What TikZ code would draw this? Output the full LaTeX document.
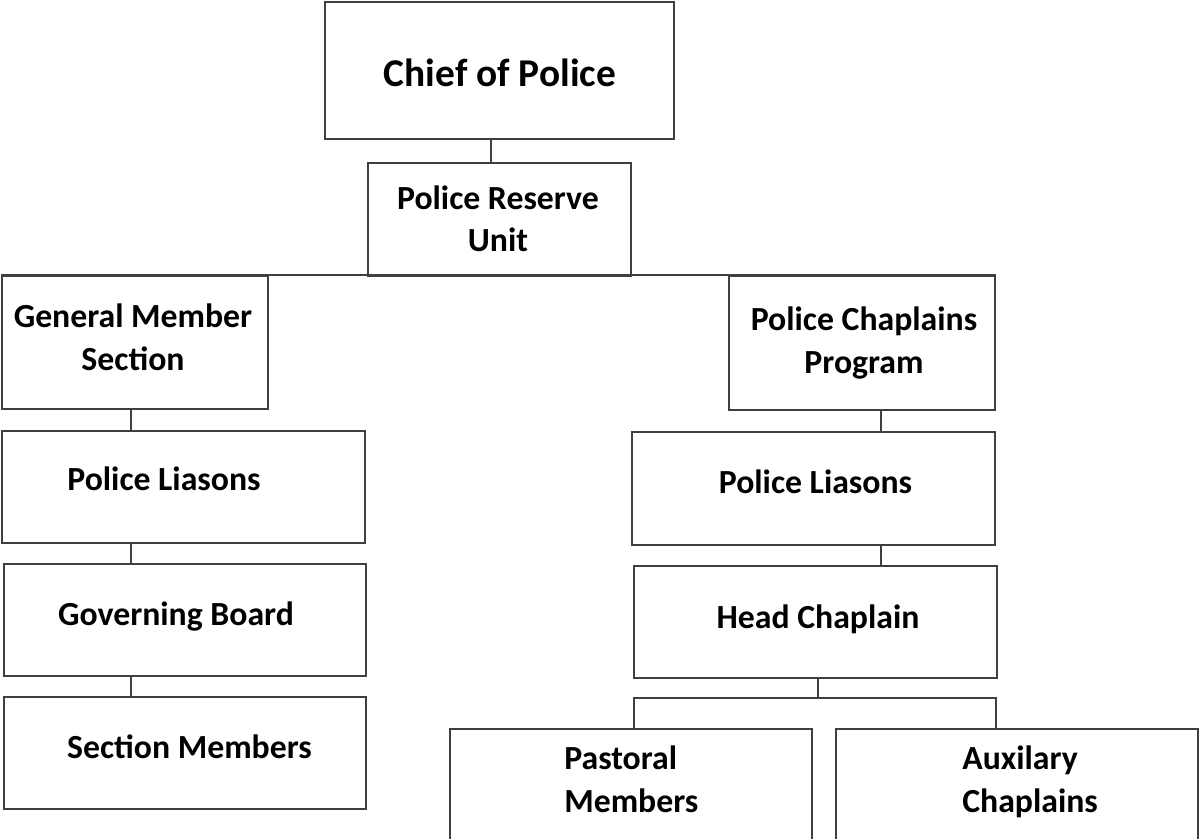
\documentclass[tikz,border=0pt]{standalone}
\usepackage{fontspec}
\setmainfont{Carlito}
\usepackage{tikz}

\begin{document}
\begin{tikzpicture}[x=.025cm, y=-.025cm,
		box/.style={draw=black!75, line width=1.5pt, rectangle, inner sep=0pt},
		lbl/.style={font=\bfseries\fontsize{24}{30.5}\selectfont, inner sep=0pt, anchor=base},
		wire/.style={black!75, line width=1.5pt}]
	\useasboundingbox (0,0) rectangle (1200,839);
	\foreach \name/\cx/\cy/\w/\h in {chief/499.5/70.5/349/137, pru/499.5/219.5/263/113,
			gms/135/342.5/266/133, pcp/862/343/266/134, lpl/183.5/487/363/112,
			gov/185/620/362/112, secm/185/753/362/112, rpl/813.5/488.5/363/113,
			head/815.5/622/363/112, past/631/785/362/112, aux/1017/785/362/112}
		\node[box, minimum width=\w*.025cm, minimum height=\h*.025cm] (\name) at (\cx,\cy) {};
	\node[lbl, font=\bfseries\fontsize{28}{34}\selectfont] (chief-t) at (500,86.7) {Chief of Police};
	\node[lbl, align=center] (pru-t) at (498,252) {Police Reserve\\Unit};
	\node[lbl, align=center] (gms-t) at (133,370) {General Member\\Section};
	\node[lbl, align=center] (pcp-t) at (864,373) {Police Chaplains\\Program};
	\node[lbl] (lpl-t) at (164,490) {Police Liasons};
	\node[lbl] (gov-t) at (176,625) {Governing Board};
	\node[lbl] (secm-t) at (189.5,758) {Section Members};
	\node[lbl] (rpl-t) at (815.5,493) {Police Liasons};
	\node[lbl] (head-t) at (818,628) {Head Chaplain};
	\node[lbl, align=left, anchor=base west] (past-t) at (564,812) {Pastoral\\Members};
	\node[lbl, align=left, anchor=base west] (aux-t) at (962,812) {Auxilary\\Chaplains};
	\coordinate (cspine) at (491,0);
	\coordinate (lspine) at (131,0);
	\coordinate (rspine) at (881,0);
	\coordinate (busl) at (634,698);
	\coordinate (busm) at (818,698);
	\coordinate (busr) at (996,698);
	\draw[wire] (chief.south -| cspine) -- (pru.north -| cspine);
	\draw[wire] (gms.north west) -- (pcp.north east);
	\draw[wire] (gms.south -| lspine) -- (lpl.north -| lspine);
	\draw[wire] (lpl.south -| lspine) -- (gov.north -| lspine);
	\draw[wire] (gov.south -| lspine) -- (secm.north -| lspine);
	\draw[wire] (pcp.south -| rspine) -- (rpl.north -| rspine);
	\draw[wire] (rpl.south -| rspine) -- (head.north -| rspine);
	\draw[wire] (head.south -| busm) -- (busm);
	\draw[wire] (past.north -| busl) -- (busl) -- (busr) -- (aux.north -| busr);
\end{tikzpicture}
\end{document}
